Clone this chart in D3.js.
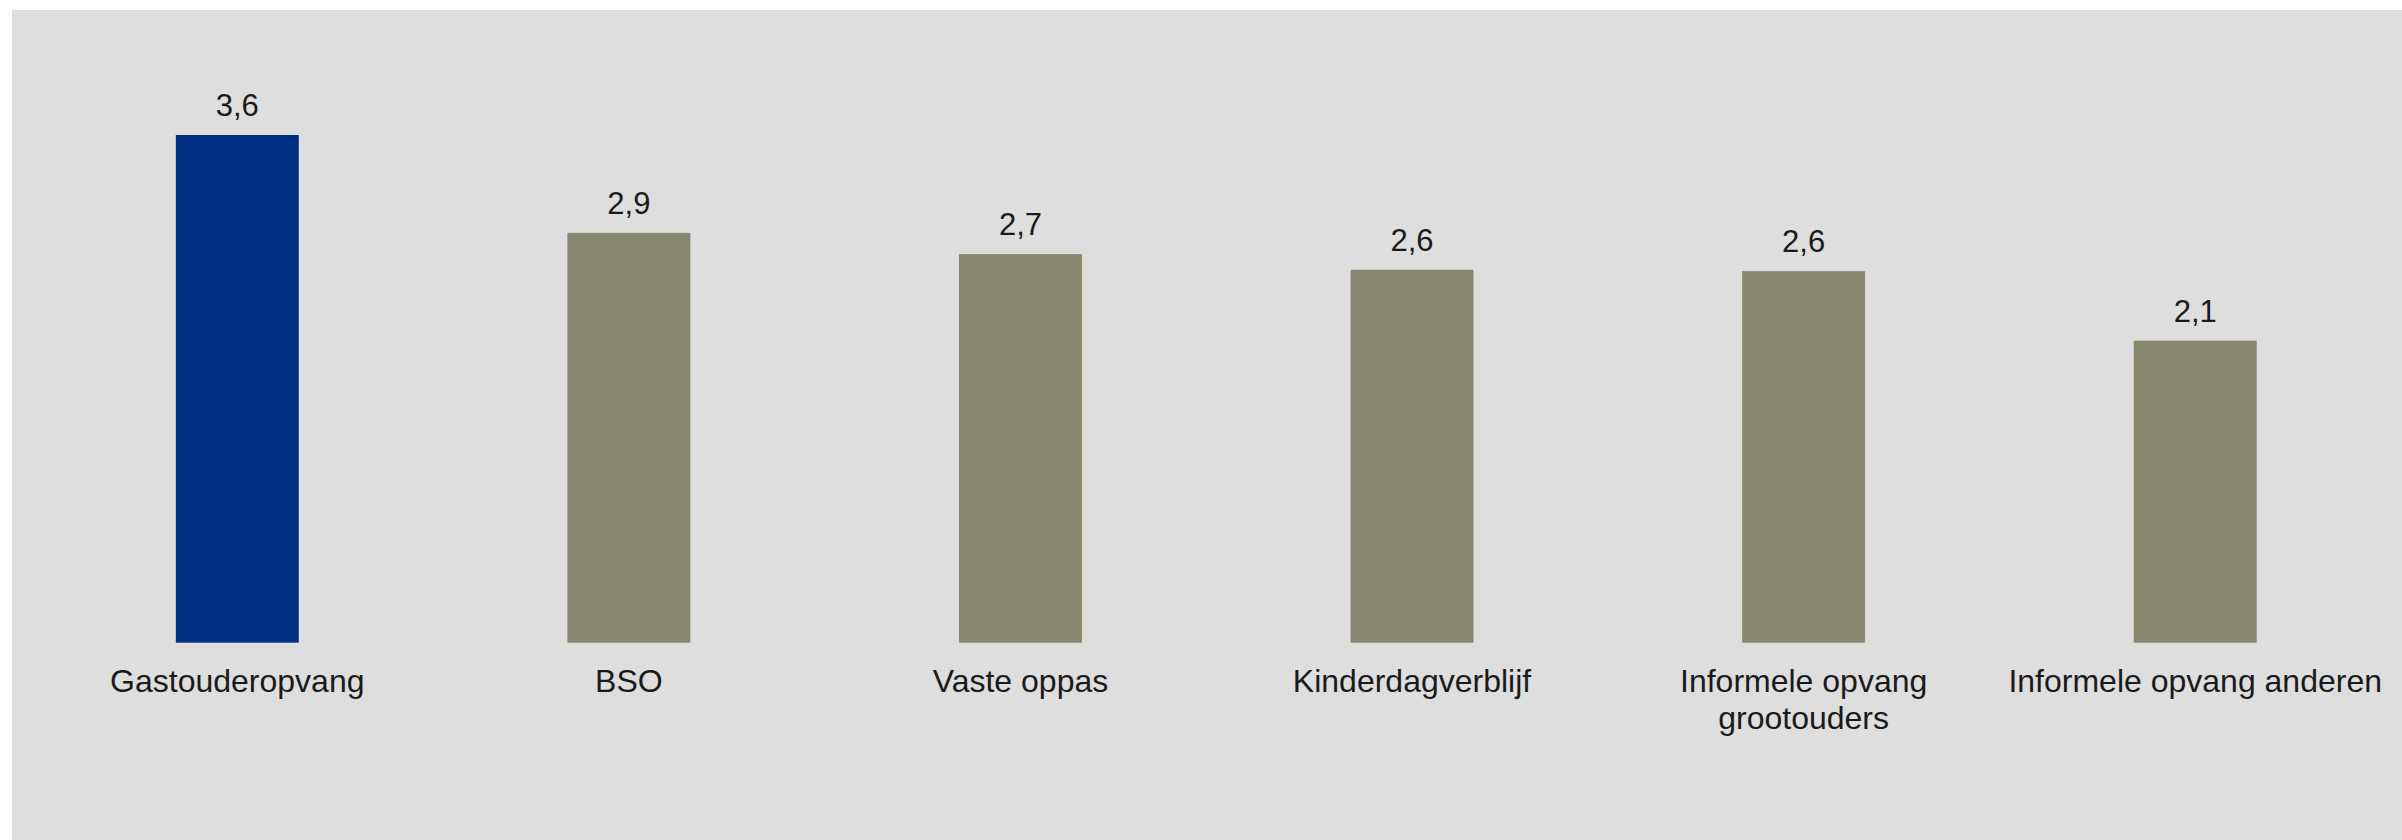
<!DOCTYPE html>
<html>
<head>
<meta charset="utf-8">
<script src="https://cdn.jsdelivr.net/npm/d3@7"></script>
<style>
  html, body { margin: 0; padding: 0; background: #ffffff; }
  svg { display: block; }
</style>
</head>
<body>
<svg id="chart" width="2402" height="840"></svg>
<script>
const categories = ["Gastouderopvang", "BSO", "Vaste oppas", "Kinderdagverblijf", "Informele opvang grootouders", "Informele opvang anderen"];
const values = [3.58, 2.89, 2.74, 2.63, 2.62, 2.13];
const highlighted = ["Gastouderopvang"];

const W = 2402, H = 840;
const svg = d3.select("#chart");
const font = "Arial, 'Liberation Sans', sans-serif";

svg.append("rect")
  .attr("x", 12).attr("y", 10)
  .attr("width", W - 12).attr("height", H - 10)
  .attr("fill", "#dedede");

const x = d3.scaleBand()
  .domain(categories)
  .range([41.5, 2391])
  .paddingInner(0.686)
  .paddingOuter(0.343);

const y = d3.scaleLinear()
  .domain([0, d3.max(values)])
  .range([642.7, 135]);

const data = categories.map((c, i) => ({ c, v: values[i] }));
const fmt = v => d3.format(".1f")(v).replace(".", ",");

svg.append("g").selectAll("rect")
  .data(data)
  .join("rect")
  .attr("x", d => x(d.c))
  .attr("y", d => y(d.v))
  .attr("width", x.bandwidth())
  .attr("height", d => y(0) - y(d.v))
  .attr("fill", d => highlighted.includes(d.c) ? "#003082" : "#878770");

svg.append("g").selectAll("text")
  .data(data)
  .join("text")
  .attr("x", d => x(d.c) + x.bandwidth() / 2)
  .attr("y", d => y(d.v) - 19)
  .attr("text-anchor", "middle")
  .attr("font-family", font)
  .attr("font-size", 31)
  .attr("fill", "#1a1a1a")
  .text(d => fmt(d.v));

// category axis
const axis = svg.append("g")
  .attr("transform", `translate(0, ${y(0)})`)
  .call(d3.axisBottom(x).tickSize(0).tickPadding(0));
axis.select(".domain").remove();
axis.selectAll("text")
  .attr("font-family", font)
  .attr("font-size", 32)
  .attr("fill", "#1a1a1a")
  .attr("dy", null)
  .attr("y", 49.3)
  .call(wrap, x.step());

function wrap(texts, width) {
  texts.each(function () {
    const t = d3.select(this);
    const words = t.text().split(/\s+/);
    const yy = t.attr("y");
    t.text(null);
    let line = [];
    let lineNo = 0;
    let tspan = t.append("tspan").attr("x", 0).attr("y", yy);
    for (const w of words) {
      line.push(w);
      tspan.text(line.join(" "));
      if (tspan.node().getComputedTextLength() > width && line.length > 1) {
        line.pop();
        tspan.text(line.join(" "));
        line = [w];
        lineNo++;
        tspan = t.append("tspan").attr("x", 0).attr("y", +yy + lineNo * 36.6).text(w);
      }
    }
  });
}
</script>
</body>
</html>
